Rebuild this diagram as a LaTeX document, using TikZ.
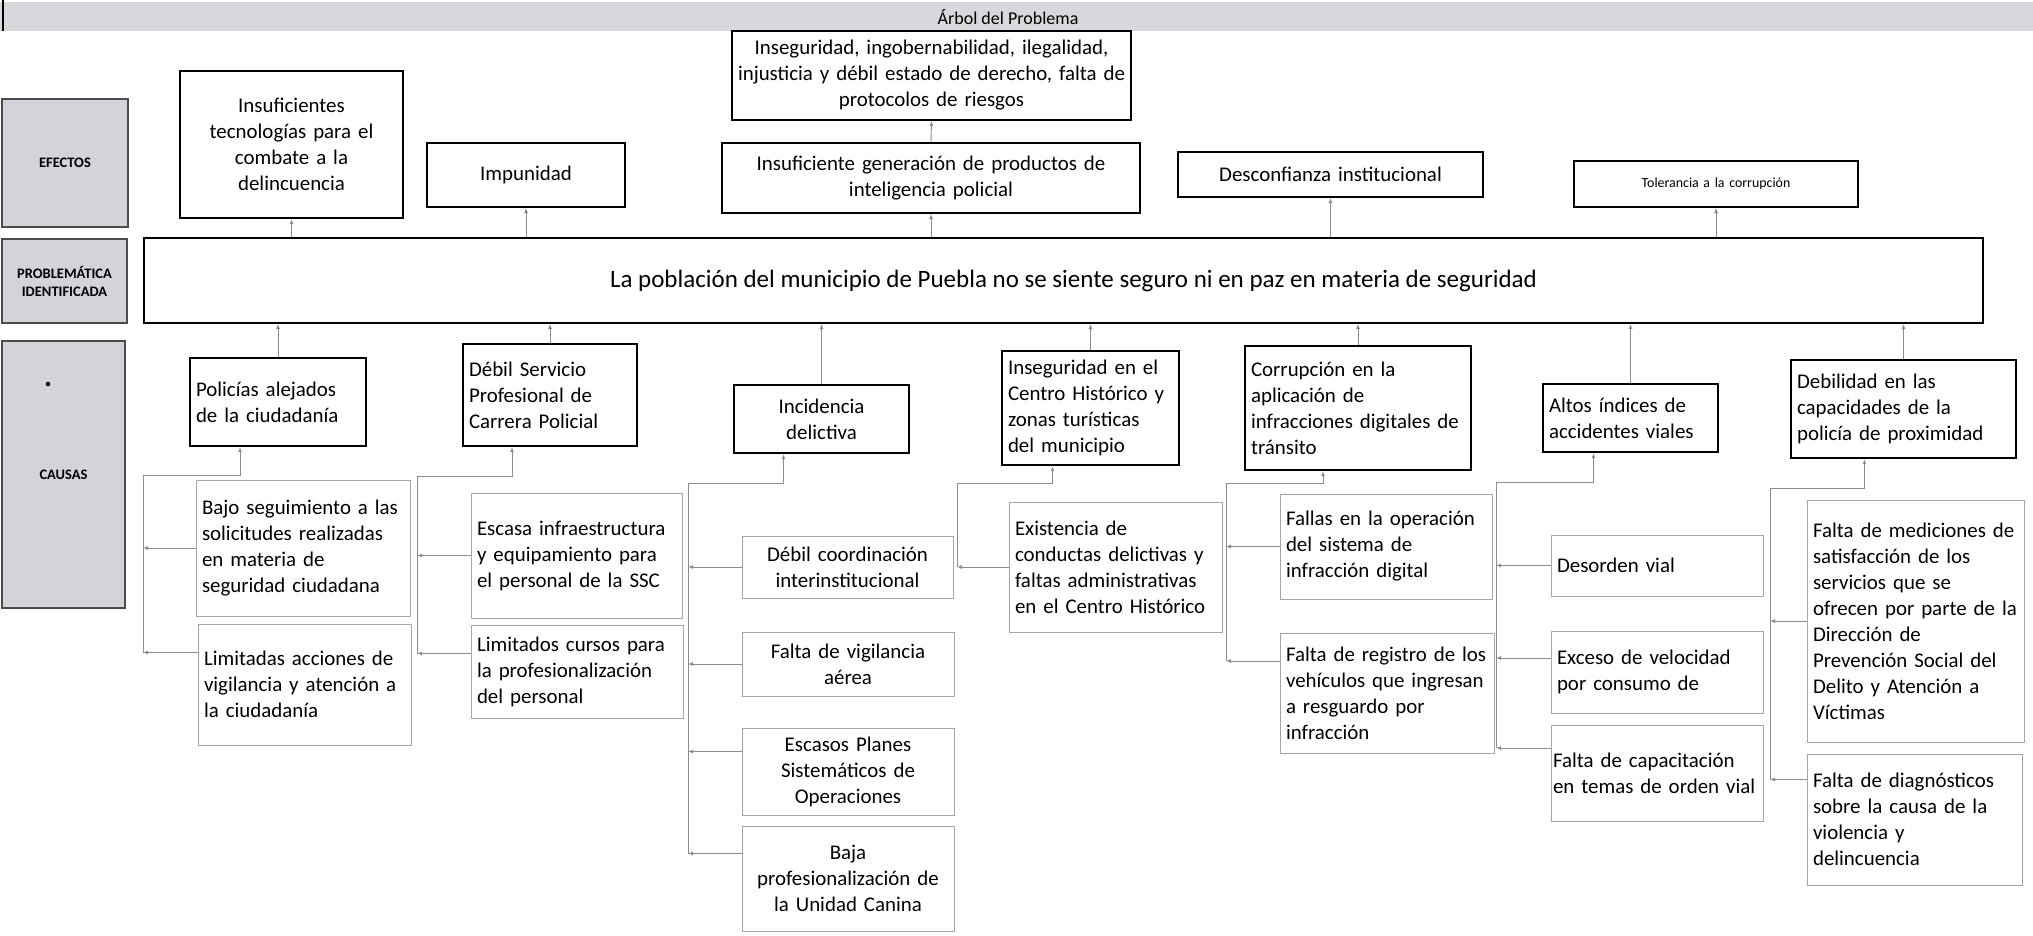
\documentclass[tikz,border=0pt]{standalone}
\usepackage{fontspec}
\setmainfont{Carlito}
\usetikzlibrary{arrows.meta}

\definecolor{labelgray}{HTML}{D2D4DA}
\definecolor{bargray}{HTML}{D6D8DC}
\hyphenpenalty=10000
\exhyphenpenalty=10000

\begin{document}
\begin{tikzpicture}[x=1pt,y=-1pt,
    lbl/.style={draw=black!70, line width=1.5, fill=labelgray, font=\bfseries\fontsize{14.5}{18}\selectfont, align=center, inner sep=0},
    eff/.style={draw, line width=2, font=\fontsize{20.9}{26}\selectfont, align=center, inner xsep=6, inner ysep=2},
    cause/.style={draw, line width=2.4, font=\fontsize{20.9}{26}\selectfont, align=left, inner xsep=6, inner ysep=2},
    sub/.style={draw=black!35, line width=1, font=\fontsize{20.9}{26}\selectfont, align=left, inner xsep=6, inner ysep=2},
    arr/.style={draw=black!45, line width=0.9, -{Latex[length=5,width=4]}}
]
\useasboundingbox (0,0) rectangle (2033,935);

% barra de titulo
\fill[bargray] (0,2) rectangle (2033,31);
\draw[line width=1.5] (3,0) -- (3,31);
\node[font=\fontsize{18}{20}\selectfont] (titulo) at (1008,17) {Árbol del Problema};

% etiquetas de la izquierda
\node[lbl, minimum width=126, minimum height=128] (efe) at (65,163) {EFECTOS};
\node[lbl, minimum width=125, minimum height=84] (pro) at (64.5,281) {PROBLEMÁTICA\\IDENTIFICADA};
\node[lbl, minimum width=123, minimum height=267] (cau) at (63.5,474.5) {CAUSAS};
\fill (48,384) circle[radius=2.2pt];

% efectos
\node[eff, text width=211, minimum height=147] (e1) at (291.5,144.5) {Insuficientes\\tecnologías para el\\combate a la\\delincuencia};
\node[eff, text width=186, minimum height=64] (e2) at (526,175) {Impunidad};
\node[eff, inner xsep=1, text width=397, minimum height=89] (e3a) at (931.5,75.5) {Inseguridad, ingobernabilidad, ilegalidad,\\injusticia y débil estado de derecho, falta de\\protocolos de riesgos};
\node[eff, text width=406, minimum height=70] (e3) at (931,178) {Insuficiente generación de productos de\\inteligencia policial};
\node[eff, text width=293, minimum height=45] (e4) at (1330.5,174.5) {Desconfianza institucional};
\node[eff, text width=272, minimum height=46, font=\fontsize{13.9}{17}\selectfont] (e5) at (1716,184) {Tolerancia a la corrupción};

% problema central
\node[draw, line width=2, minimum width=1839, minimum height=85, font=\fontsize{25}{30}\selectfont] (prob) at (1063.5,280.5) {\hspace*{20pt}La población del municipio de Puebla no se siente seguro ni en paz en materia de seguridad};

\draw[arr] (prob.north -| e1) -- (e1.south);
\draw[arr] (prob.north -| e2) -- (e2.south);
\draw[arr] (prob.north -| e3) -- (e3.south);
\draw[arr] (prob.north -| e4) -- (e4.south);
\draw[arr] (prob.north -| e5) -- (e5.south);
\draw[arr] (e3.north) -- (e3a.south);

% causas
\node[cause, text width=164, minimum height=88] (c1) at (278,402) {Policías alejados\\de la ciudadanía};
\node[cause, text width=162, minimum height=102] (c2) at (550,395) {Débil Servicio\\Profesional de\\Carrera Policial};
\node[cause, text width=163, minimum height=68, align=center] (c3) at (821.5,419) {Incidencia\\delictiva};
\node[cause, text width=165, minimum height=114] (c4) at (1090.5,408) {Inseguridad en el\\Centro Histórico y\\zonas turísticas\\del municipio};
\node[cause, text width=214, minimum height=124] (c5) at (1358,408) {Corrupción en la\\aplicación de\\infracciones digitales de\\tránsito};
\node[cause, text width=163, minimum height=68] (c6) at (1630.5,418) {Altos índices de\\accidentes viales};
\node[cause, text width=213, minimum height=98] (c7) at (1903.5,409) {Debilidad en las\\capacidades de la\\policía de proximidad};

\draw[arr] (c1.north) -- (c1.north |- prob.south);
\draw[arr] (c2.north) -- (c2.north |- prob.south);
\draw[arr] (c3.north) -- (c3.north |- prob.south);
\draw[arr] (c4.north) -- (c4.north |- prob.south);
\draw[arr] (c5.north) -- (c5.north |- prob.south);
\draw[arr] (c6.north) -- (c6.north |- prob.south);
\draw[arr] (c7.north) -- (c7.north |- prob.south);

% subcausas de Policias alejados
\node[sub, text width=202, minimum height=136] (s11) at (303,548) {Bajo seguimiento a las\\solicitudes realizadas\\en materia de\\seguridad ciudadana};
\node[sub, text width=201, minimum height=121] (s12) at (304.5,684.5) {Limitadas acciones de\\vigilancia y atención a\\la ciudadanía};
\coordinate (t1) at (143,475);
\draw[arr] ([yshift=32pt]s12.west -| t1) -- (t1) -| ([xshift=-38pt]c1.south);
\draw[arr] (s11.west) -- (s11.west -| t1);
\draw[arr] ([yshift=32pt]s12.west) -- ([yshift=32pt]s12.west -| t1);

% subcausas de Debil Servicio
\node[sub, text width=199, minimum height=125] (s21) at (576.5,555.5) {Escasa infraestructura\\y equipamiento para\\el personal de la SSC};
\node[sub, text width=200, minimum height=93] (s22) at (577,671.5) {Limitados cursos para\\la profesionalización\\del personal};
\coordinate (t2) at (417,476);
\draw[arr] ([yshift=18pt]s22.west -| t2) -- (t2) -| ([xshift=-38pt]c2.south);
\draw[arr] (s21.west) -- (s21.west -| t2);
\draw[arr] ([yshift=18pt]s22.west) -- ([yshift=18pt]s22.west -| t2);

% subcausas de Incidencia delictiva
\node[sub, text width=199, minimum height=62, align=center] (s31) at (847.5,567) {Débil coordinación\\interinstitucional};
\node[sub, text width=200, minimum height=64, align=center] (s32) at (848,664) {Falta de vigilancia\\aérea};
\node[sub, text width=200, minimum height=87, align=center] (s33) at (848,771.5) {Escasos Planes\\Sistemáticos de\\Operaciones};
\node[sub, text width=200, minimum height=105, align=center] (s34) at (848,878.5) {Baja\\profesionalización de\\la Unidad Canina};
\coordinate (t3) at (688,483);
\draw[arr] ([yshift=25pt]s34.west -| t3) -- (t3) -| ([xshift=-38pt]c3.south);
\draw[arr] (s31.west) -- (s31.west -| t3);
\draw[arr] (s32.west) -- (s32.west -| t3);
\draw[arr] ([yshift=20pt]s33.west) -- ([yshift=20pt]s33.west -| t3);
\draw[arr] ([yshift=25pt]s34.west) -- ([yshift=25pt]s34.west -| t3);

% subcausa de Inseguridad en el Centro Historico
\node[sub, text width=201, minimum height=130] (s41) at (1115.5,567) {Existencia de\\conductas delictivas y\\faltas administrativas\\en el Centro Histórico};
\coordinate (t4) at (957,483);
\draw[arr] (s41.west -| t4) -- (t4) -| ([xshift=-38pt]c4.south);
\draw[arr] (s41.west) -- (s41.west -| t4);

% subcausas de Corrupcion
\node[sub, text width=200, minimum height=105] (s51) at (1386,546.5) {Fallas en la operación\\del sistema de\\infracción digital};
\node[sub, text width=202, minimum height=120] (s52) at (1387,693) {Falta de registro de los\\vehículos que ingresan\\a resguardo por\\infracción};
\coordinate (t5) at (1226,483);
\draw[arr] ([yshift=32pt]s52.west -| t5) -- (t5) -| ([xshift=-35pt]c5.south);
\draw[arr] (s51.west) -- (s51.west -| t5);
\draw[arr] ([yshift=32pt]s52.west) -- ([yshift=32pt]s52.west -| t5);

% subcausas de Altos indices
\node[sub, text width=200, minimum height=61] (s61) at (1657,565.5) {Desorden vial};
\node[sub, text width=200, minimum height=82] (s62) at (1657,672) {Exceso de velocidad\\por consumo de};
\node[sub, inner xsep=2, text width=208, minimum height=96] (s63) at (1657,773) {Falta de capacitación\\en temas de orden vial};
\coordinate (t6) at (1496,482);
\draw[arr] ([yshift=25pt]s63.west -| t6) -- (t6) -| ([xshift=-37pt]c6.south);
\draw[arr] (s61.west) -- (s61.west -| t6);
\draw[arr] ([yshift=14pt]s62.west) -- ([yshift=14pt]s62.west -| t6);
\draw[arr] ([yshift=25pt]s63.west) -- ([yshift=25pt]s63.west -| t6);

% subcausas de Debilidad en las capacidades
\node[sub, text width=205, minimum height=242] (s71) at (1915.5,621) {Falta de mediciones de\\satisfacción de los\\servicios que se\\ofrecen por parte de la\\Dirección de\\Prevención Social del\\Delito y Atención a\\Víctimas};
\node[sub, text width=203, minimum height=131] (s72) at (1914.5,819.5) {Falta de diagnósticos\\sobre la causa de la\\violencia y\\delincuencia};
\coordinate (t7) at (1770,488);
\draw[arr] ([yshift=40pt]s72.west -| t7) -- (t7) -| ([xshift=-39pt]c7.south);
\draw[arr] (s71.west) -- (s71.west -| t7);
\draw[arr] ([yshift=40pt]s72.west) -- ([yshift=40pt]s72.west -| t7);
\end{tikzpicture}
\end{document}
